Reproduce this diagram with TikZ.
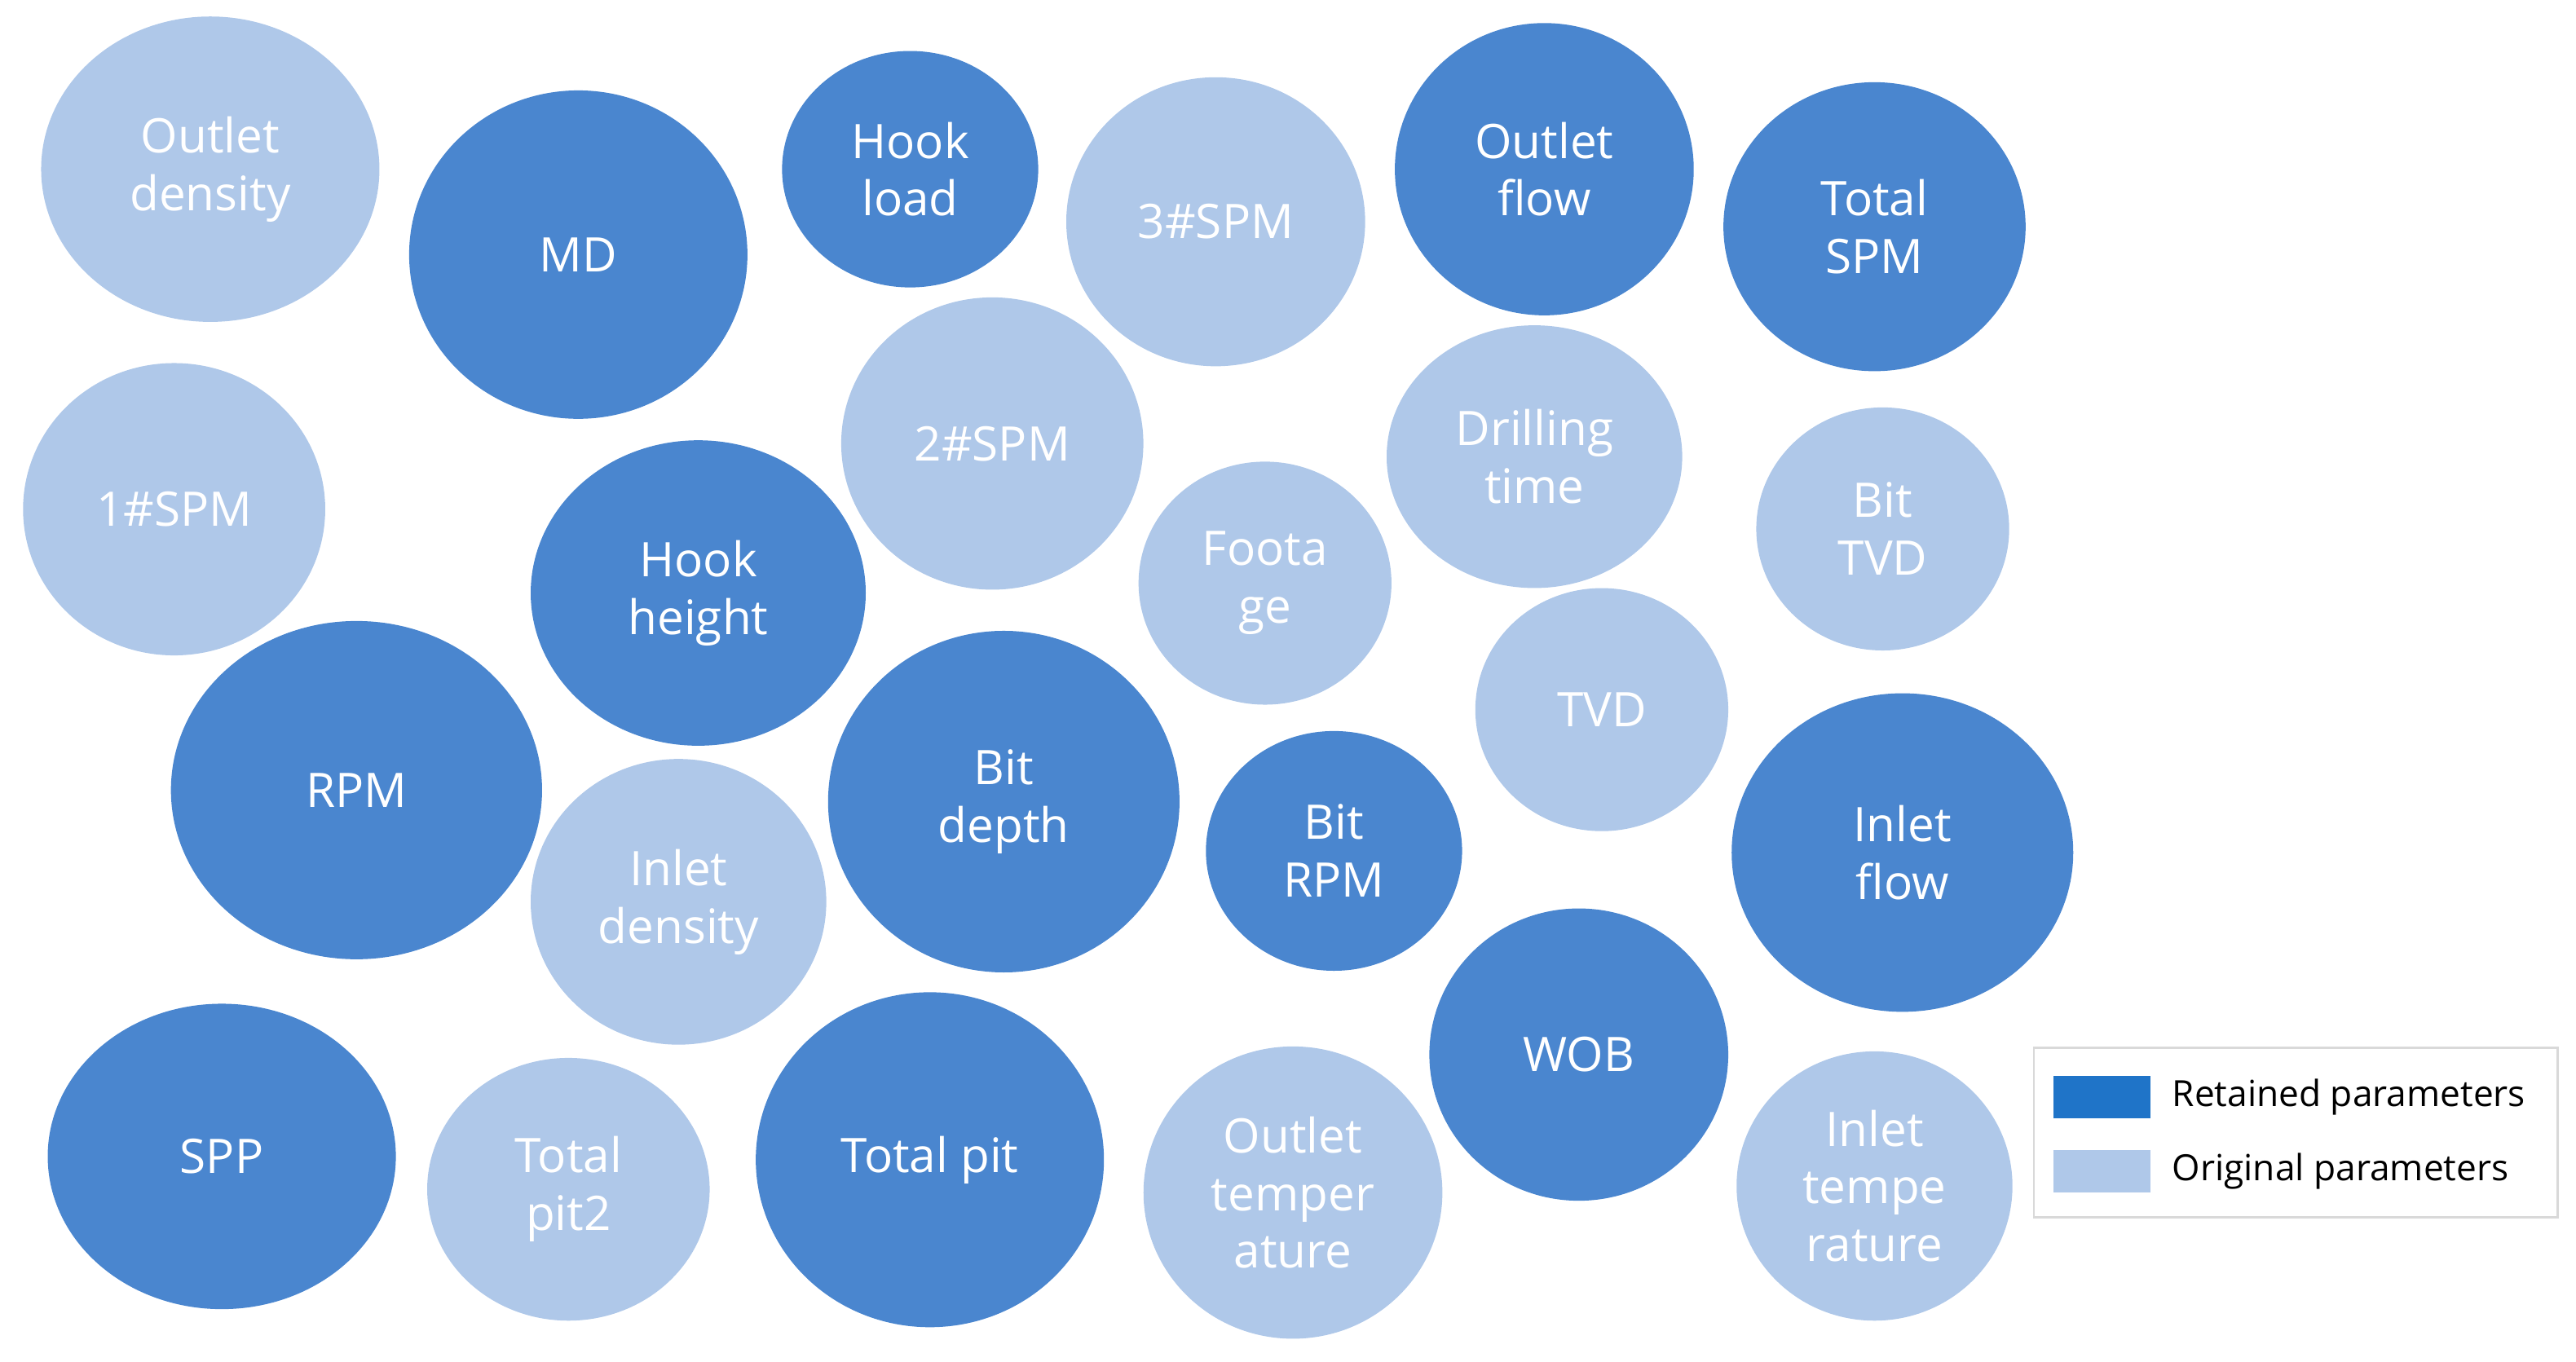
\documentclass[tikz,border=0pt]{standalone}
\usepackage{fontspec}
\setmainfont{Open Sans}
\usetikzlibrary{shapes.geometric}
\definecolor{dk}{HTML}{4A86CF}
\definecolor{lt}{HTML}{AFC8E9}
\definecolor{legdk}{HTML}{1F74C8}
\newcommand{\bub}[7]{\node[bubble,fill=#6,minimum width=#4*0.04cm,minimum height=#5*0.04cm] (#1) at (#2,#3) {#7};}
\begin{document}
\begin{tikzpicture}[x=0.02cm,y=-0.02cm,
 bubble/.style={ellipse,inner sep=0pt,draw=none,text=white,align=center,font=\fontsize{16.5}{20}\selectfont}]
\useasboundingbox (0,0) rectangle (1568,829);
\bub{od}{128}{103}{103}{93}{lt}{Outlet\\density}
\bub{md}{352}{155}{103}{100}{dk}{MD}
\bub{hl}{554}{103}{78}{72}{dk}{Hook\\load}
\bub{s3}{740}{135}{91}{88}{lt}{3\#SPM}
\bub{of}{940}{103}{91}{89}{dk}{Outlet\\flow}
\bub{ts}{1141}{138}{92}{88}{dk}{Total\\SPM}
\bub{s1}{106}{310}{92}{89}{lt}{1\#SPM}
\bub{s2}{604}{270}{92}{89}{lt}{2\#SPM}
\bub{dt}{934}{278}{90}{80}{lt}{Drilling\\time}
\bub{bt}{1146}{322}{77}{74}{lt}{Bit\\TVD}
\bub{hh}{425}{361}{102}{93}{dk}{Hook\\height}
\bub{fg}{770}{355}{77}{74}{lt}{Foota\\ge}
\bub{tvd}{975}{432}{77}{74}{lt}{TVD}
\bub{rpm}{217}{481}{113}{103}{dk}{RPM}
\bub{bd}{611}{488}{107}{104}{dk}{Bit\\depth}
\bub{br}{812}{518}{78}{73}{dk}{Bit\\RPM}
\bub{if}{1158}{519}{104}{97}{dk}{Inlet\\flow}
\bub{id}{413}{549}{90}{87}{lt}{Inlet\\density}
\bub{wob}{961}{642}{91}{89}{dk}{WOB}
\bub{spp}{135}{704}{106}{93}{dk}{SPP}
\bub{tp2}{346}{724}{86}{80}{lt}{Total\\pit2}
\bub{tp}{566}{706}{106}{102}{dk}{Total pit}
\bub{ot}{787}{726}{91}{89}{lt}{Outlet\\temper\\ature}
\bub{it}{1141}{722}{84}{82}{lt}{Inlet\\tempe\\rature}
\node[draw=black!15,line width=0.8pt,minimum width=319*0.02cm,minimum height=103*0.02cm,inner sep=0pt] (leg) at (1397.5,689.5) {};
\fill[legdk] (1250,655) rectangle (1309,681);
\fill[lt] (1250,700) rectangle (1309,726);
\node[anchor=west,font=\fontsize{12.5}{15}\selectfont] (l1) at (1316,668) {Retained parameters};
\node[anchor=west,font=\fontsize{12.5}{15}\selectfont] (l2) at (1316,713) {Original parameters};
\end{tikzpicture}
\end{document}
